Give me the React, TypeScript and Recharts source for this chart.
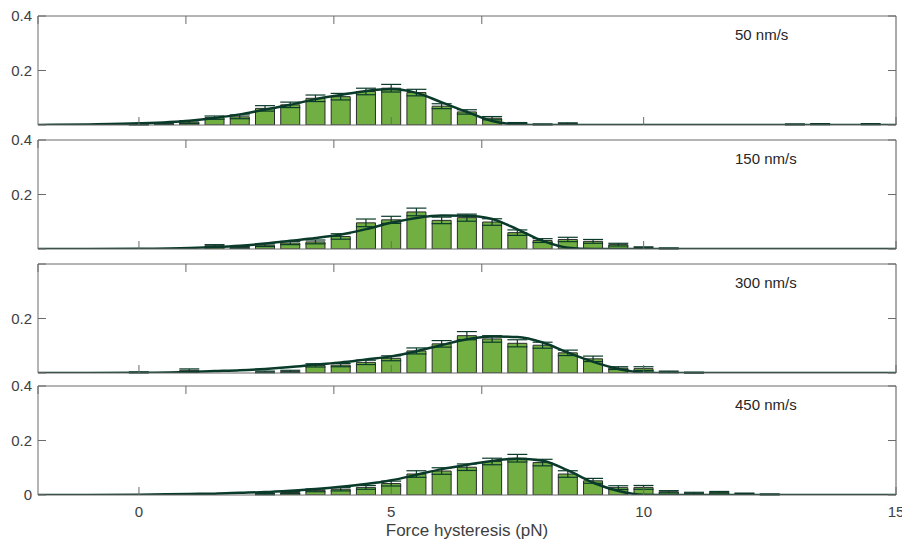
import React from "react";
import { ComposedChart, Bar, Line, XAxis, YAxis, ErrorBar, ReferenceDot } from "recharts";

// histogram bin centres (pN)
const bins = [0, 0.5, 1, 1.5, 2, 2.5, 3, 3.5, 4, 4.5, 5, 5.5, 6, 6.5, 7, 7.5, 8, 8.5, 9, 9.5, 10, 10.5, 11, 11.5, 12, 12.5, 13, 13.5, 14, 14.5];

const p50 = [0.002, 0.005, 0.011, 0.027, 0.03, 0.061, 0.074, 0.098, 0.104, 0.123, 0.135, 0.119, 0.069, 0.048, 0.025, 0.006, 0.002, 0.005, 0, 0, 0, 0, 0, 0, 0, 0, 0.002, 0.003, 0, 0.003];
const e50 = [0.002, 0.003, 0.005, 0.006, 0.007, 0.01, 0.01, 0.012, 0.012, 0.012, 0.014, 0.012, 0.009, 0.008, 0.006, 0.003, 0.002, 0.003, 0, 0, 0, 0, 0, 0, 0, 0, 0.002, 0.002, 0, 0.002];

const p150 = [0, 0, 0, 0.012, 0.006, 0.014, 0.022, 0.026, 0.046, 0.096, 0.107, 0.136, 0.105, 0.115, 0.099, 0.06, 0.031, 0.035, 0.028, 0.016, 0.005, 0.002, 0, 0, 0, 0, 0, 0, 0, 0];
const e150 = [0, 0, 0, 0.004, 0.003, 0.005, 0.006, 0.007, 0.01, 0.014, 0.013, 0.014, 0.012, 0.013, 0.012, 0.01, 0.007, 0.008, 0.007, 0.005, 0.003, 0.002, 0, 0, 0, 0, 0, 0, 0, 0];

const p300 = [0.002, 0, 0.01, 0, 0, 0.004, 0.006, 0.028, 0.029, 0.039, 0.054, 0.081, 0.107, 0.137, 0.125, 0.109, 0.102, 0.074, 0.052, 0.018, 0.016, 0.004, 0.001, 0, 0, 0, 0, 0, 0, 0];
const e300 = [0.002, 0, 0.005, 0, 0, 0.003, 0.004, 0.006, 0.006, 0.008, 0.009, 0.011, 0.012, 0.015, 0.012, 0.013, 0.011, 0.01, 0.01, 0.005, 0.007, 0.003, 0.002, 0, 0, 0, 0, 0, 0, 0];

const p450 = [0, 0, 0, 0, 0, 0.003, 0.009, 0.017, 0.021, 0.028, 0.042, 0.077, 0.088, 0.102, 0.123, 0.135, 0.119, 0.077, 0.052, 0.027, 0.028, 0.012, 0.007, 0.01, 0.005, 0.002, 0, 0, 0, 0];
const e450 = [0, 0, 0, 0, 0, 0.002, 0.004, 0.005, 0.006, 0.007, 0.009, 0.012, 0.012, 0.012, 0.012, 0.014, 0.012, 0.012, 0.009, 0.007, 0.007, 0.004, 0.003, 0.003, 0.002, 0.002, 0, 0, 0, 0];

// fitted curves
const fitX = [-2, -1, 0, 1, 1.5, 2, 2.5, 3, 3.5, 4, 4.5, 5, 5.5, 6, 6.5, 7, 7.5, 8, 8.5, 9, 9.5, 10, 10.5, 11, 12, 15];
const fit50 = [0, 0.002, 0.006, 0.016, 0.026, 0.039, 0.057, 0.074, 0.095, 0.11, 0.125, 0.132, 0.118, 0.083, 0.048, 0.015, 0.002, 0, 0, 0, 0, 0, 0, 0, 0, 0];
const fit150 = [0, 0, 0.001, 0.004, 0.007, 0.012, 0.02, 0.03, 0.04, 0.053, 0.073, 0.096, 0.114, 0.123, 0.122, 0.11, 0.072, 0.03, 0.005, 0, 0, 0, 0, 0, 0, 0];
const fit300 = [0, 0, 0.001, 0.004, 0.007, 0.01, 0.015, 0.022, 0.031, 0.039, 0.05, 0.061, 0.08, 0.103, 0.124, 0.134, 0.132, 0.112, 0.075, 0.041, 0.015, 0.002, 0, 0, 0, 0];
const fit450 = [0, 0, 0.001, 0.004, 0.005, 0.008, 0.011, 0.016, 0.022, 0.03, 0.04, 0.054, 0.074, 0.095, 0.111, 0.125, 0.133, 0.126, 0.09, 0.045, 0.015, 0.001, 0, 0, 0, 0];

const xTicks = [0, 5, 10, 15];
const yTicks = [0, 0.2, 0.4];
const speeds = ["50 nm/s", "150 nm/s", "300 nm/s", "450 nm/s"];

const W = 902;
const PLOT_H = 109;
const axisColor = "#6b6b6b";
const labelColor = "#404040";
const barFill = "#72af42";
const lineColor = "#0a3b2a";

const BottomTick = (props: any) => {
  const { x, y, payload, showLabel } = props;
  const ay = y - 11;
  return (
    <g>
      <line x1={x} y1={ay} x2={x} y2={ay - 8} stroke={axisColor} />
      {showLabel && (
        <text x={x} y={y} dy="0.71em" textAnchor="middle" fill={labelColor} fontSize={15}>
          {payload.value}
        </text>
      )}
    </g>
  );
};

const TopTick = (props: any) => {
  const { x, y } = props;
  return <line x1={x} y1={y} x2={x} y2={y + 8} stroke={axisColor} />;
};

const LeftTick = (props: any) => {
  const { x, y, payload, labels } = props;
  const ax = x + 6;
  return (
    <g>
      <line x1={ax} y1={y} x2={ax + 8} y2={y} stroke={axisColor} />
      {labels.includes(payload.value) && (
        <text x={x} y={y} dy="0.355em" textAnchor="end" fill={labelColor} fontSize={15}>
          {payload.value}
        </text>
      )}
    </g>
  );
};

const RightTick = (props: any) => {
  const { x, y } = props;
  return <line x1={x} y1={y} x2={x - 8} y2={y} stroke={axisColor} />;
};

const Panel = ({ top, values, errors, fit, label, yLabels, last }: any) => {
  const data = bins.map((x, i) => ({ x, p: values[i], err: errors[i] }));
  const fitData = fitX.map((x, i) => ({ x, fit: fit[i] }));
  const bottomH = last ? 46 : 12;
  const height = 10 + PLOT_H + bottomH;
  return (
    <div style={{ position: "absolute", left: 0, top: top - 10 }}>
      <ComposedChart width={W} height={height} data={data} margin={{ top: 9, right: 5, bottom: 0, left: 0 }}>
        <XAxis
          dataKey="x"
          type="number"
          domain={[-2, 15]}
          allowDataOverflow
          ticks={xTicks}
          interval={0}
          height={bottomH}
          axisLine={{ stroke: axisColor }}
          tickLine={false}
          tickSize={0}
          tickMargin={11}
          tick={(p: any) => <BottomTick {...p} showLabel={last} />}
          label={last ? { value: "Force hysteresis (pN)", position: "insideBottom", offset: 5, fill: labelColor, fontSize: 17 } : undefined}
        />
        <XAxis
          xAxisId="top"
          orientation="top"
          type="number"
          domain={[-2, 15]}
          allowDataOverflow
          ticks={xTicks}
          interval={0}
          height={1}
          axisLine={{ stroke: axisColor }}
          tickLine={false}
          tickSize={0}
          tickMargin={0}
          tick={(p: any) => <TopTick {...p} />}
        />
        <YAxis
          type="number"
          domain={[0, 0.4]}
          allowDataOverflow
          ticks={yTicks}
          interval={0}
          width={38}
          axisLine={{ stroke: axisColor }}
          tickLine={false}
          tickSize={0}
          tickMargin={6}
          tick={(p: any) => <LeftTick {...p} labels={yLabels} />}
        />
        <YAxis
          yAxisId="right"
          orientation="right"
          type="number"
          domain={[0, 0.4]}
          allowDataOverflow
          ticks={yTicks}
          interval={0}
          width={1}
          axisLine={{ stroke: "#555" }}
          tickLine={false}
          tickSize={0}
          tickMargin={0}
          tick={(p: any) => <RightTick {...p} />}
        />
        <Bar dataKey="p" fill={barFill} stroke="#2b2b2b" strokeWidth={1} barSize={19} isAnimationActive={false}>
          <ErrorBar dataKey="err" direction="y" width={10} stroke={lineColor} strokeWidth={1.2} />
        </Bar>
        <Line
          data={fitData}
          dataKey="fit"
          type="monotone"
          stroke={lineColor}
          strokeWidth={2.5}
          dot={false}
          isAnimationActive={false}
        />
        <ReferenceDot
          x={11.81}
          y={0.33}
          r={0}
          fill="none"
          stroke="none"
          label={{ value: label, position: "right", offset: 0, fill: "#262626", fontSize: 15 }}
        />
      </ComposedChart>
    </div>
  );
};

export default function App() {
  return (
    <div
      style={{
        position: "absolute",
        left: 0,
        top: 0,
        width: W,
        height: 542,
        background: "#fff",
        fontFamily: "'Liberation Sans', Arial, sans-serif",
      }}
    >
      <Panel top={16} values={p50} errors={e50} fit={fit50} label={speeds[0]} yLabels={[0.2, 0.4]} />
      <Panel top={140} values={p150} errors={e150} fit={fit150} label={speeds[1]} yLabels={[0.2, 0.4]} />
      <Panel top={264} values={p300} errors={e300} fit={fit300} label={speeds[2]} yLabels={[0.2]} />
      <Panel top={386} values={p450} errors={e450} fit={fit450} label={speeds[3]} yLabels={[0, 0.2, 0.4]} last />
    </div>
  );
}
